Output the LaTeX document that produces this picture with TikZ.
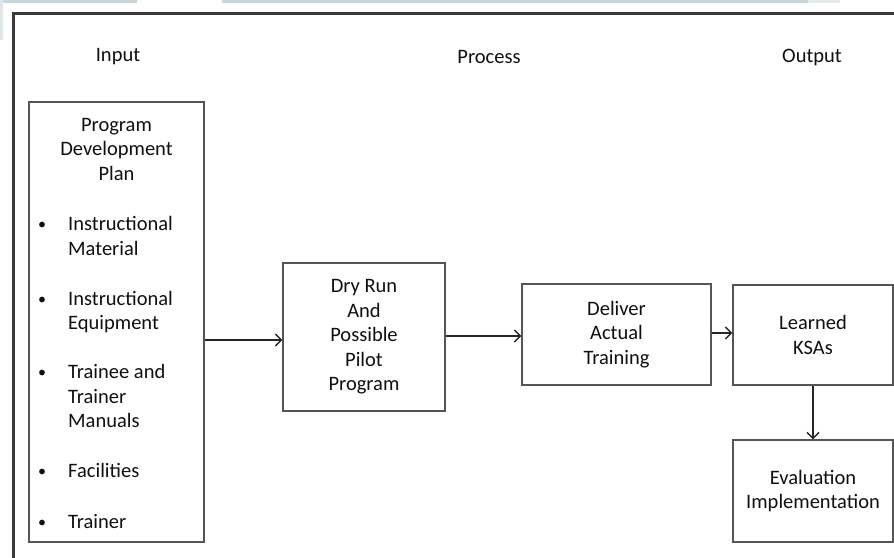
\documentclass[tikz,border=0pt]{standalone}
\usepackage{fontspec}
\setmainfont{Carlito}
\usetikzlibrary{arrows.meta,calc}
\definecolor{frame}{HTML}{3A3A3A}
\definecolor{boxline}{HTML}{555555}
\definecolor{txt}{HTML}{101010}
\definecolor{artifact}{HTML}{C8D6DC}
\tikzset{
  box/.style={draw=boxline, line width=1.4pt, fill=white, inner sep=0pt, align=center, text=txt,
    font=\fontsize{20.5}{24.5}\selectfont},
  lbl/.style={inner sep=0pt, text=txt, font=\fontsize{20.5}{24.5}\selectfont},
  item/.style={lbl, anchor=base west},
  bul/.style={inner sep=0pt, text=txt, anchor=base, font=\fontsize{16}{16}\selectfont},
  conn/.style={draw=black!85, line width=1.3pt, -{Straight Barb[length=6pt,width=12pt,line width=1.4pt]}}
}
\begin{document}
\begin{tikzpicture}[x=1pt,y=-1pt]
\useasboundingbox (0,0) rectangle (894,557);
\fill[white] (0,0) rectangle (894,557);
% screenshot artifacts
\fill[artifact] (0,0) rectangle (137,3);
\fill[artifact] (222,0) rectangle (808,3);
\fill[artifact!50] (808,0) rectangle (840,3);
\fill[artifact!60] (0,0) rectangle (3,40);
% outer frame
\begin{scope}
\clip (0,0) rectangle (894,557);
\draw[frame, line width=2.6pt] (13.7,13.3) rectangle (910,580);
\end{scope}
% headers
\node[lbl] (hin) at (118,57) {Input};
\node[lbl] (hpr) at (489,57) {Process};
\node[lbl] (hout) at (812,57) {Output};
% input box
\node[box, minimum width=175pt, minimum height=440pt] (inbox) at (116.5,322) {};
\node[lbl, align=center, anchor=north] (title) at (116.5,118) {Program\\Development\\Plan};
\node[bul] (b1) at (42,229) {•};
\node[item] (i1) at (68,230) {Instructional};
\node[item] (i1b) at (68,255) {Material};
\node[bul] (b2) at (42,304) {•};
\node[item] (i2) at (68,305) {Instructional};
\node[item] (i2b) at (68,329) {Equipment};
\node[bul] (b3) at (42,377) {•};
\node[item] (i3) at (68,378) {Trainee and};
\node[item] (i3b) at (68,403) {Trainer};
\node[item] (i3c) at (68,427) {Manuals};
\node[bul] (b4) at (42,476) {•};
\node[item] (i4) at (68,477) {Facilities};
\node[bul] (b5) at (42,527) {•};
\node[item] (i5) at (68,528) {Trainer};
% process boxes
\node[box, minimum width=162pt, minimum height=148pt] (dry) at (364,337) {Dry Run\\And\\Possible\\Pilot\\Program};
\node[box, minimum width=189pt, minimum height=101pt] (deliver) at (616.5,334.5) {Deliver\\Actual\\Training};
\node[box, minimum width=160pt, minimum height=100pt] (learned) at (813,335) {Learned\\KSAs};
\node[box, minimum width=160pt, minimum height=102pt] (eval) at (813,491) {Evaluation\\Implementation};
% connectors
\coordinate (a1) at (0,340);
\draw[conn] (inbox.east |- a1) -- (dry.west |- a1);
\coordinate (a2) at (0,336);
\draw[conn] (dry.east |- a2) -- (deliver.west |- a2);
\coordinate (a3) at (0,333);
\draw[conn] (deliver.east |- a3) -- (learned.west |- a3);
\draw[conn] (learned.south) -- (eval.north);
\end{tikzpicture}
\end{document}
